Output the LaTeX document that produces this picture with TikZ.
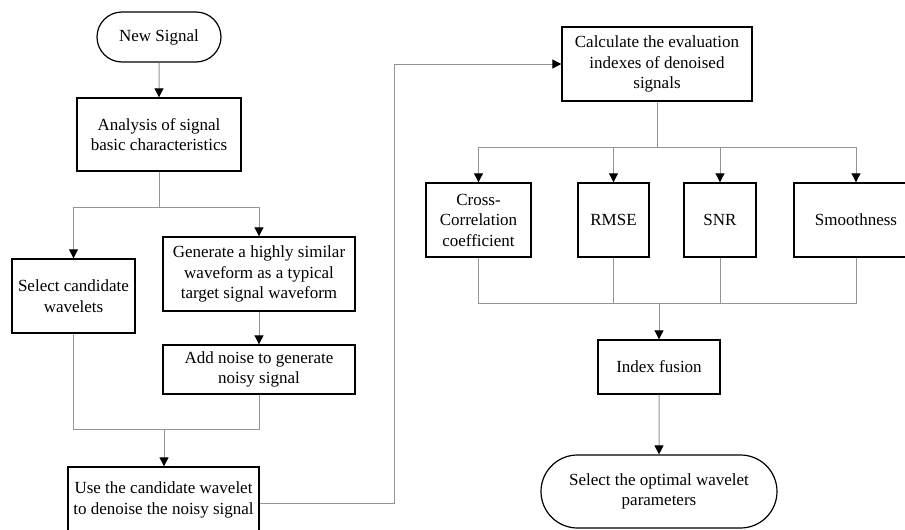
\documentclass[tikz,border=0pt]{standalone}
\usepackage{fontspec}
\setmainfont{Liberation Serif}
\usetikzlibrary{arrows.meta,shapes.misc}
\begin{document}
\begin{tikzpicture}[x=1pt,y=-1pt,
  font=\fontsize{17}{20.5}\selectfont,
  box/.style={draw=black,line width=1.4pt,align=center,inner sep=0pt,fill=white},
  term/.style={draw=black,line width=1.2pt,rounded rectangle,align=center,inner sep=0pt,fill=white},
  conn/.style={draw=black!42,line width=1pt},
  arr/.style={conn,-{Triangle[length=9pt,width=9pt,color=black]}}]
\clip (0,0) rectangle (905,530);
\fill[white] (0,0) rectangle (905,530);
% left column
\node[term,minimum width=124pt,minimum height=50pt] (new) at (159,37) {New Signal};
\node[box,minimum width=164pt,minimum height=73pt] (ana) at (159,134.5) {Analysis of signal\\basic characteristics};
\node[box,minimum width=123pt,minimum height=74pt] (sel) at (73.5,296) {Select candidate\\wavelets};
\node[box,minimum width=192pt,minimum height=74pt] (gen) at (259,274) {Generate a highly similar\\waveform as a typical\\target signal waveform};
\node[box,minimum width=192pt,minimum height=49pt] (add) at (259,369.5) {Add noise to generate\\noisy signal};
\node[box,minimum width=191pt,minimum height=66pt] (use) at (163.5,500) {Use the candidate wavelet\\to denoise the noisy signal};
% right column
\node[box,minimum width=190pt,minimum height=74pt] (calc) at (657,64) {Calculate the evaluation\\indexes of denoised\\signals};
\node[box,minimum width=105pt,minimum height=74pt] (cc) at (478.5,220) {Cross-\\Correlation\\coefficient};
\node[box,minimum width=71pt,minimum height=74pt] (rmse) at (613.5,220) {RMSE};
\node[box,minimum width=72pt,minimum height=74pt] (snr) at (720,220) {SNR};
\node[box,minimum width=124pt,minimum height=74pt] (smo) at (856,220) {Smoothness};
\node[box,minimum width=122pt,minimum height=54pt] (fus) at (659,367) {Index fusion};
\node[term,minimum width=236pt,minimum height=73pt] (opt) at (659,491.5) {Select the optimal wavelet\\parameters};
% coordinates
\coordinate (s1) at (159,207);
\coordinate (m1) at (164,429);
\coordinate (r1) at (394,503);
\coordinate (r2) at (394,64);
\coordinate (s2) at (657,147);
\coordinate (m2) at (659,303);
% connectors
\draw[arr] (new) -- (ana);
\draw[conn] (ana.south) -- (s1);
\draw[arr] (s1) -| (sel.north);
\draw[arr] (s1) -| (gen.north);
\draw[arr] (gen) -- (add);
\draw[conn] (sel.south) |- (m1);
\draw[conn] (add.south) |- (m1);
\draw[arr] (m1) -- (m1 |- use.north);
\draw[arr] (use.east |- r1) -- (r1) -- (r2) -- (calc.west);
\draw[conn] (calc.south) -- (s2);
\draw[arr] (s2) -| (cc.north);
\draw[arr] (s2) -| (rmse.north);
\draw[arr] (s2) -| (snr.north);
\draw[arr] (s2) -| (smo.north);
\draw[conn] (cc.south) |- (m2);
\draw[conn] (rmse.south) |- (m2);
\draw[conn] (snr.south) |- (m2);
\draw[conn] (smo.south) |- (m2);
\draw[arr] (m2) -- (fus.north);
\draw[arr] (fus) -- (opt);
\end{tikzpicture}
\end{document}
